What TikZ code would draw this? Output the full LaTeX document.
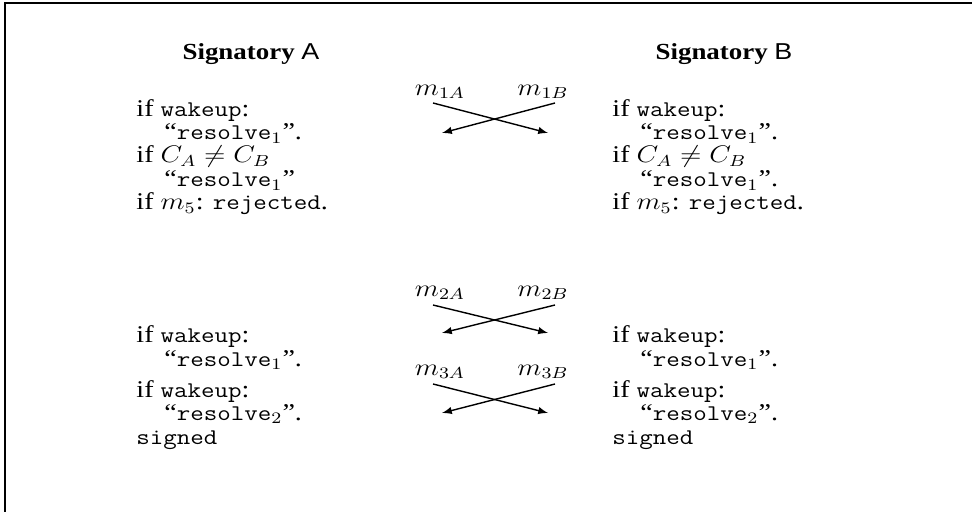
\documentclass[tikz,border=0pt]{standalone}
\usepackage{fontspec}
\setmainfont{Liberation Serif}
\newfontfamily\helv{Liberation Sans}
\newcommand\tw[1]{{\fontsize{11.2}{13}\selectfont\texttt{#1}}}
\usetikzlibrary{arrows}

\begin{document}
\begin{tikzpicture}[x=0.5pt,y=-0.5pt,font=\fontsize{12}{14}\selectfont,
  txt/.style={anchor=base west,inner sep=0pt,xscale=1.17},
  hdr/.style={anchor=base,inner sep=0pt,xscale=1.17,font=\fontsize{11.5}{14}\selectfont},
  lbl/.style={xscale=1.17},
  msg/.style={->,>=latex,line width=0.7pt}]
\useasboundingbox (0,0) rectangle (972,512);
\draw[line width=1pt] (5,512) -- (5,3) -- (972,3); % frame
% headers
\node[hdr] (hdrA) at (251,60) {\textbf{Signatory} {\helv A}};
\node[hdr] (hdrB) at (724,60) {\textbf{Signatory} {\helv B}};
% signatory A
\node[txt] (a1) at (136,117) {if \tw{wakeup}:};
\node[txt] (a2) at (164,140) {``\tw{resolve}$_1$''.};
\node[txt] (a3) at (136,163) {if $C_A \neq C_B$};
\node[txt] (a4) at (164,187) {``\tw{resolve}$_1$''};
\node[txt] (a5) at (136,210) {if $m_5$: \tw{rejected}.};
\node[txt] (a6) at (136,343) {if \tw{wakeup}:};
\node[txt] (a7) at (164,366) {``\tw{resolve}$_1$''.};
\node[txt] (a8) at (136,397) {if \tw{wakeup}:};
\node[txt] (a9) at (164,420) {``\tw{resolve}$_2$''.};
\node[txt] (a10) at (136,444) {\tw{signed}};
% signatory B
\node[txt] (b1) at (612,117) {if \tw{wakeup}:};
\node[txt] (b2) at (640,140) {``\tw{resolve}$_1$''.};
\node[txt] (b3) at (612,163) {if $C_A \neq C_B$};
\node[txt] (b4) at (640,187) {``\tw{resolve}$_1$''.};
\node[txt] (b5) at (612,210) {if $m_5$: \tw{rejected}.};
\node[txt] (b6) at (612,343) {if \tw{wakeup}:};
\node[txt] (b7) at (640,366) {``\tw{resolve}$_1$''.};
\node[txt] (b8) at (612,397) {if \tw{wakeup}:};
\node[txt] (b9) at (640,420) {``\tw{resolve}$_2$''.};
\node[txt] (b10) at (612,444) {\tw{signed}};
% messages
\node[lbl] (m1A) at (440,92) {$m_{1A}$};
\node[lbl] (m1B) at (543,92) {$m_{1B}$};
\node[lbl] (m2A) at (440,293) {$m_{2A}$};
\node[lbl] (m2B) at (543,293) {$m_{2B}$};
\node[lbl] (m3A) at (440,372) {$m_{3A}$};
\node[lbl] (m3B) at (543,372) {$m_{3B}$};
\coordinate (s1A) at (433,103); \coordinate (e1A) at (548,133);
\coordinate (s1B) at (555,103); \coordinate (e1B) at (442,133);
\coordinate (s2A) at (433,305); \coordinate (e2A) at (548,333);
\coordinate (s2B) at (555,305); \coordinate (e2B) at (442,333);
\coordinate (s3A) at (433,384); \coordinate (e3A) at (548,413);
\coordinate (s3B) at (555,384); \coordinate (e3B) at (442,413);
\draw[msg] (s1A) -- (e1A);
\draw[msg] (s1B) -- (e1B);
\draw[msg] (s2A) -- (e2A);
\draw[msg] (s2B) -- (e2B);
\draw[msg] (s3A) -- (e3A);
\draw[msg] (s3B) -- (e3B);
\end{tikzpicture}
\end{document}
